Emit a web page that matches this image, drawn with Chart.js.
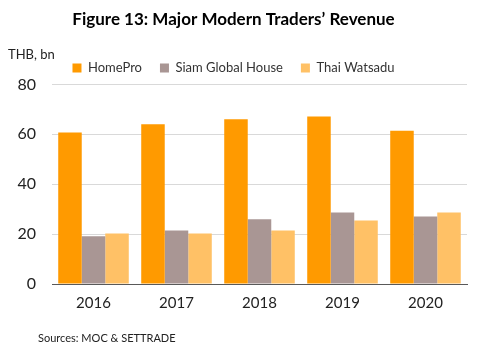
<!DOCTYPE html>
<html>
<head>
<meta charset="utf-8">
<script src="https://cdn.jsdelivr.net/npm/chart.js@4"></script>
<style>
  body { margin: 0; background: #fff; }
  #wrap { width: 482px; height: 354px; }
</style>
</head>
<body>
<div id="wrap"><canvas id="revChart" width="482" height="354"></canvas></div>
<script>
// data
const years = ['2016', '2017', '2018', '2019', '2020'];
const homePro = [60.7, 64.0, 66.0, 67.1, 61.4];
const siamGlobal = [19.1, 21.4, 26.0, 28.7, 27.1];
const thaiWatsadu = [20.2, 20.2, 21.4, 25.5, 28.7];
const yTicks = [0, 20, 40, 60, 80];

const FONT = 'Lato, "DejaVu Sans", sans-serif';

// extra texts (unit + source)
const extraText = {
  id: 'extraText',
  afterDraw(chart) {
    const c = chart.ctx;
    c.save();
    c.fillStyle = '#222';
    c.textBaseline = 'middle';
    c.textAlign = 'left';
    c.font = '13px ' + FONT;
    c.fillText('THB, bn', 8, 55);
    c.font = '11px ' + FONT;
    c.fillText('Sources: MOC & SETTRADE', 38, 338);
    c.restore();
  }
};

const ctx = document.getElementById('revChart');
const revChart = new Chart(ctx, {
  type: 'bar',
  data: {
    labels: years,
    datasets: [
      { label: 'HomePro', data: homePro, backgroundColor: '#FF9A00' },
      { label: 'Siam Global House', data: siamGlobal, backgroundColor: '#A99694' },
      { label: 'Thai Watsadu', data: thaiWatsadu, backgroundColor: '#FFC166' }
    ]
  },
  options: {
    responsive: false,
    animation: false,
    categoryPercentage: 0.85,
    barPercentage: 1,
    layout: { padding: { left: 0, right: 15, top: 5, bottom: 32 } },
    plugins: {
      title: {
        display: true,
        text: 'Figure 13: Major Modern Traders\u2019 Revenue',
        color: '#000',
        font: { family: FONT, size: 17, weight: 'bold' },
        padding: { top: 4, bottom: 14 }
      },
      legend: {
        position: 'top',
        labels: {
          boxWidth: 9,
          boxHeight: 9,
          padding: 18,
          color: '#333',
          font: { family: FONT, size: 13 }
        }
      },
      tooltip: { enabled: false }
    },
    scales: {
      x: {
        grid: { display: false, drawTicks: false },
        border: { color: '#595959', width: 1 },
        ticks: { color: '#222', padding: 10, font: { family: FONT, size: 15 } }
      },
      y: {
        min: 0,
        max: 80,
        afterBuildTicks(scale) { scale.ticks = yTicks.map(v => ({ value: v })); },
        afterFit(scale) { scale.width = 52; },
        grid: { color: '#D9D9D9', drawTicks: false },
        border: { display: false },
        ticks: { color: '#222', padding: 16, font: { family: FONT, size: 16 } }
      }
    }
  },
  plugins: [extraText]
});
</script>
</body>
</html>
